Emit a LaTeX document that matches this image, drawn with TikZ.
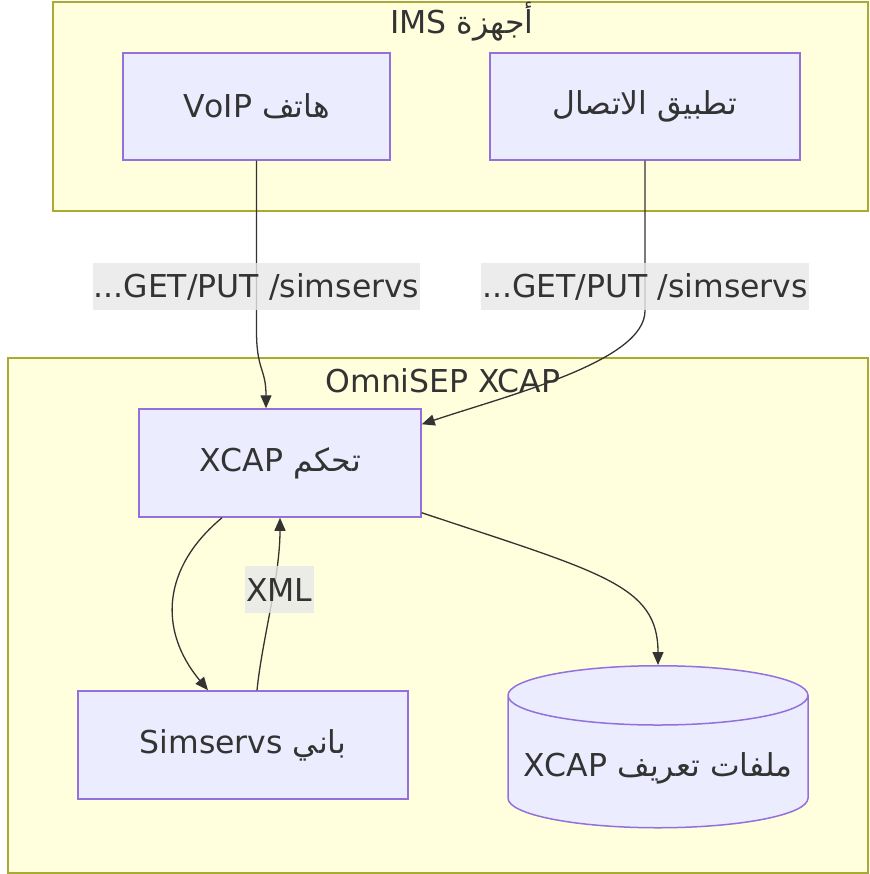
\documentclass[tikz,border=0pt]{standalone}
\usepackage{fontspec}
\setmainfont{DejaVu Sans}
\newfontfamily\arabicfont[Script=Arabic]{DejaVu Sans}
\TeXXeTstate=1
\usetikzlibrary{arrows.meta,shapes.geometric,calc}
\definecolor{NodeFill}{HTML}{ECECFF}
\definecolor{NodeLine}{HTML}{9370DB}
\definecolor{ClusterFill}{HTML}{FFFFDE}
\definecolor{ClusterLine}{HTML}{AAAA33}
\definecolor{EdgeLine}{HTML}{333333}
\definecolor{LabelFill}{HTML}{E8E8E8}
\definecolor{TextGrey}{HTML}{333333}
\newcommand{\artext}[1]{{\arabicfont\beginR #1\endR}}

\begin{document}
\begin{tikzpicture}[x=1pt,y=1pt,yscale=-1,xscale=1,
	txt/.style={font=\fontsize{31.5}{38}\selectfont, text=TextGrey},
	cluster/.style={draw=ClusterLine, fill=ClusterFill, line width=1.5pt, inner sep=0pt},
	box/.style={txt, draw=NodeLine, fill=NodeFill, line width=1.5pt, inner sep=0pt, minimum height=107},
	store/.style={txt, cylinder, shape border rotate=90, aspect=0.22, draw=NodeLine, fill=NodeFill, line width=1.5pt, inner sep=0pt},
	edge/.style={draw=EdgeLine, line width=1.3pt, -{Triangle[length=13pt,width=11pt]}},
	elabel/.style={txt, fill=LabelFill, fill opacity=0.8, text opacity=1, inner xsep=1pt, inner ysep=0pt, minimum height=47}]
		% Set the page to the size of the reference
		\useasboundingbox[fill=white] (0,0) rectangle (869,874);

		% Draw the two clusters
		\node[cluster, minimum width=815, minimum height=209] (ims) at (460.5,106.5) {};
		\node[cluster, minimum width=860, minimum height=515] (omni) at (438,615.5) {};

		% Cluster titles
		\node[txt] (imstitle) at (462,22) {\artext{أجهزة \beginL IMS\endL}};
		\node[txt] (omnititle) at (443,381) {OmniSEP XCAP};

		% The devices in the upper cluster
		\node[box, minimum width=267] (voip) at (256.5,106.5) {\artext{هاتف \beginL VoIP\endL}};
		\node[box, minimum width=310] (app) at (645,106.5) {\artext{تطبيق الاتصال}};

		% The parts of the XCAP server
		\node[box, minimum width=282, minimum height=108] (xcap) at (280,463) {\artext{تحكم \beginL XCAP\endL}};
		\node[box, minimum width=330, minimum height=108] (sim) at (243,745) {\artext{باني \beginL Simservs\endL}};

		% The profile store, with its text set low in the body
		\node[store, anchor=north, minimum width=300, minimum height=162] (profiles) at (658,665) {\phantom{\artext{ملفات تعريف \beginL XCAP\endL}}};
		\node[txt] (proftext) at (658,768) {\artext{ملفات تعريف \beginL XCAP\endL}};

		% Requests from the devices
		\draw[edge] (voip.south) -- node[elabel, pos=0.74] {...GET/PUT /simservs} ++(0,170)
			.. controls +(0,40) and +(0,-40) .. ([xshift=-14pt]xcap.north);
		\draw[edge] (app.south) -- node[elabel, pos=0.84] {...GET/PUT /simservs} ++(0,150)
			.. controls +(0,50) and +(90,-30) .. ($(xcap.north east)+(0,16)$);

		% Control to builder and back
		\draw[edge] ([xshift=-58pt]xcap.south) .. controls +(-60,50) and +(-50,-60) .. ([xshift=-35pt]sim.north);
		\draw[edge] ([xshift=14pt]sim.north) .. controls +(5,-50) and +(0,60) .. node[elabel, pos=0.6, xshift=6pt] {XML} (xcap.south);

		% Control to the profile store
		\draw[edge] ($(xcap.south east)+(0,-5)$) .. controls +(180,60) and +(0,-80) .. (profiles.north);
	\end{tikzpicture}
\end{document}
